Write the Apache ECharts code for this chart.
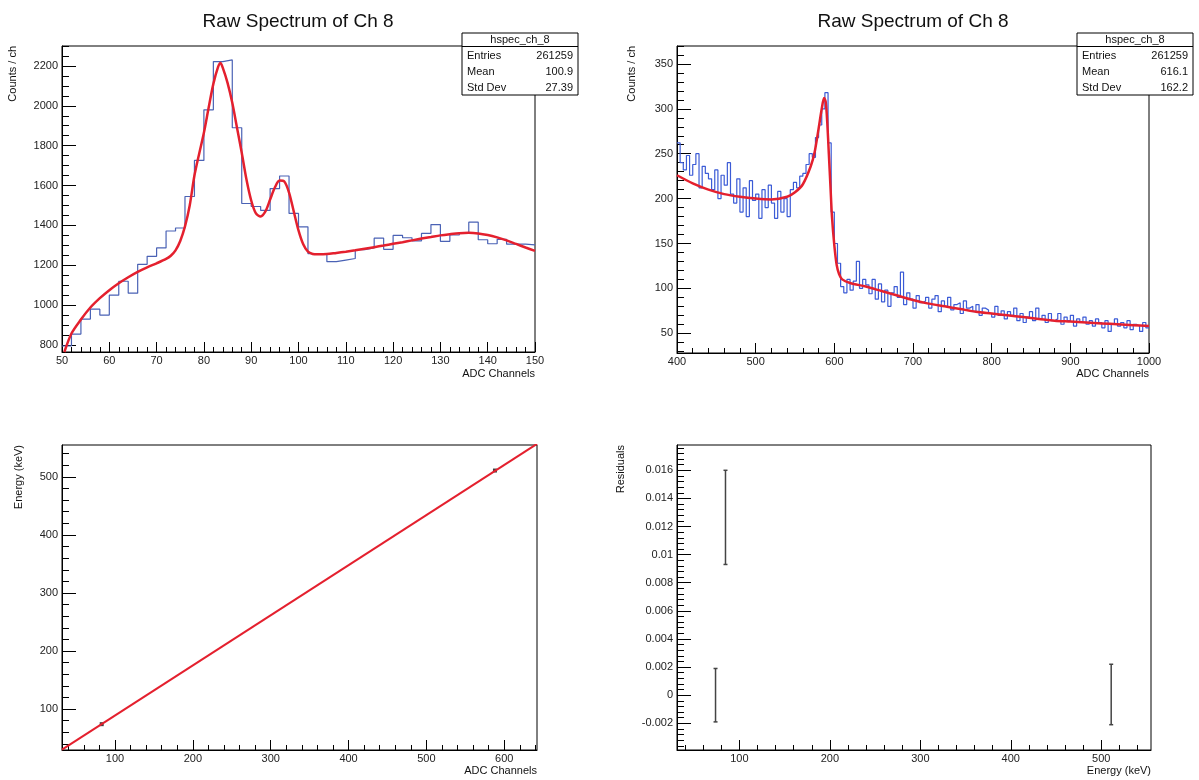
<!DOCTYPE html>
<html>
<head>
<meta charset="utf-8">
<title>Raw Spectrum of Ch 8</title>
<script src="https://cdn.jsdelivr.net/npm/echarts@6.0.0/dist/echarts.min.js"></script>
<style>
  html, body { margin: 0; padding: 0; background: #fff; }
  #main { width: 1199px; height: 780px; }
</style>
</head>
<body>
<div id="main"></div>
<script>
// ---- top left: spectrum 50..150, 2 ch bins ----
const hist1Start = 50;
const hist1Width = 2;
const hist1Counts = [
  795, 855, 930, 980, 950, 1050, 1120, 1060, 1205, 1245,
  1287, 1372, 1387, 1545, 1726, 1980, 2222, 2230, 1890, 1510,
  1495, 1475, 1585, 1648, 1460, 1393, 1258, 1258, 1218, 1226,
  1234, 1278, 1287, 1336, 1280, 1350, 1338, 1322, 1360, 1404,
  1320, 1352, 1364, 1416, 1328, 1308, 1330, 1306, 1306, 1302
];
const fit1X = [50.5, 52, 54, 56, 58, 60, 62, 64, 66, 68, 70, 72, 73, 74, 75, 76, 77, 78, 79, 80,
  81, 82, 83, 83.5, 84, 85, 86, 87, 88, 89, 90, 91, 92, 93, 94, 95, 96, 97, 98, 99, 100, 101, 102, 103, 104,
  106, 108, 110, 112, 114, 116, 118, 120, 122, 124, 126, 128, 130, 132, 134, 136, 138, 140, 142, 144, 146, 148, 150];
const fit1Y = [765, 858, 928, 988, 1035, 1075, 1110, 1140, 1167, 1190, 1210, 1232, 1248, 1275, 1322, 1395, 1500, 1650, 1760, 1865,
  1990, 2110, 2195, 2215, 2190, 2115, 2015, 1890, 1765, 1630, 1525, 1460, 1445, 1470, 1530, 1590, 1625, 1620, 1565, 1470, 1375, 1305, 1268, 1257, 1255,
  1256, 1262, 1268, 1275, 1283, 1291, 1299, 1308, 1316, 1325, 1334, 1342, 1350, 1356, 1361, 1363, 1360, 1352, 1340, 1325, 1307, 1289, 1272];

// ---- top right: spectrum 400..1000, 4 ch bins ----
const hist2Start = 400;
const hist2Width = 4;
const hist2Counts = [
  262, 240, 232, 248, 226, 238, 250, 212, 236, 228,
  222, 210, 232, 200, 226, 215, 240, 205, 195, 222,
  185, 212, 180, 220, 198, 205, 178, 210, 190, 215,
  195, 178, 208, 185, 200, 180, 210, 218, 212, 225,
  228, 238, 250, 246, 268, 282, 300, 318, 262, 185,
  150, 128, 102, 95, 110, 98, 108, 130, 100, 110,
  104, 94, 110, 88, 105, 85, 98, 80, 95, 102,
  90, 118, 82, 95, 88, 78, 92, 84, 86, 90,
  78, 88, 92, 74, 86, 80, 90, 76, 82, 84,
  72, 86, 78, 80, 74, 82, 70, 78, 76, 72,
  68, 80, 70, 75, 66, 74, 70, 78, 64, 72,
  62, 68, 74, 64, 78, 66, 70, 62, 72, 64,
  66, 72, 60, 68, 64, 70, 58, 66, 62, 68,
  60, 64, 58, 66, 62, 56, 64, 52, 60, 66,
  58, 62, 56, 64, 54, 60, 58, 52, 62, 56
];
const fit2X = [400, 420, 440, 460, 480, 500, 520, 540, 550, 560, 570, 575, 580, 584, 587, 589, 591, 593, 595, 597,
  600, 603, 606, 610, 620, 640, 660, 680, 700, 720, 740, 760, 780, 800, 820, 840, 860, 880, 900, 920, 940, 960, 980, 1000];
const fit2Y = [226, 217, 210, 205, 202, 200, 199, 202, 207, 216, 236, 252, 278, 300, 312, 308, 285, 250, 215, 180,
  148, 126, 116, 110, 106, 102, 97, 92, 87, 83, 80, 77, 74, 72, 70, 68, 66, 64, 63, 62, 61, 60, 59, 58];

// ---- bottom left: calibration ----
const calPointX = [83, 588];
const calPointY = [74, 511];
const calLineX = [32, 642];
const calLineY = [30, 557];

// ---- bottom right: residuals ----
const resX = [73.6, 84.6, 511];
const resLow = [-0.0019, 0.0093, -0.0021];
const resHigh = [0.0019, 0.016, 0.0022];

// ---- tick labels ----
const ticks1X = [50, 60, 70, 80, 90, 100, 110, 120, 130, 140, 150];
const ticks1Y = [800, 1000, 1200, 1400, 1600, 1800, 2000, 2200];
const ticks2X = [400, 500, 600, 700, 800, 900, 1000];
const ticks2Y = [50, 100, 150, 200, 250, 300, 350];
const ticks3X = [100, 200, 300, 400, 500, 600];
const ticks3Y = [100, 200, 300, 400, 500];
const ticks4X = [100, 200, 300, 400, 500];
const ticks4Y = [-0.002, 0, 0.002, 0.004, 0.006, 0.008, 0.01, 0.012, 0.014, 0.016];

const statsName = 'hspec_ch_8';
const stats1 = [['Entries', '261259'], ['Mean', '100.9'], ['Std Dev', '27.39']];
const stats2 = [['Entries', '261259'], ['Mean', '616.1'], ['Std Dev', '162.2']];

const FONT = '"Liberation Sans", Arial, Helvetica, sans-serif';

function range(a, b, step) {
  const out = [];
  for (let i = 0; a + i * step <= b + 1e-9; i++) out.push(+(a + i * step).toFixed(6));
  return out;
}
function zip(xs, ys) {
  return xs.map((x, i) => [x, ys[i]]);
}
// step outline: one point on each low edge, plus the last high edge
function histSteps(start, width, counts) {
  const pts = counts.map((c, i) => [start + i * width, c]);
  pts.push([start + counts.length * width, counts[counts.length - 1]]);
  return pts;
}

const panels = [
  { grid: { left: 62, top: 46, width: 473, height: 306 }, x: [50, 150], y: [765, 2300],
    xTicks: ticks1X, yTicks: ticks1Y, xMinor: range(50, 150, 2), yMinor: range(800, 2300, 50) },
  { grid: { left: 677, top: 46, width: 472, height: 307 }, x: [400, 1000], y: [28, 370],
    xTicks: ticks2X, yTicks: ticks2Y, xMinor: range(400, 1000, 20), yMinor: range(30, 370, 10) },
  { grid: { left: 62, top: 445, width: 475, height: 305 }, x: [32, 642], y: [29.5, 555],
    xTicks: ticks3X, yTicks: ticks3Y, xMinor: range(40, 640, 20), yMinor: range(40, 540, 20) },
  { grid: { left: 677, top: 445, width: 474, height: 305 }, x: [31, 555], y: [-0.0039, 0.0178],
    xTicks: ticks4X, yTicks: ticks4Y, xMinor: range(40, 540, 20), yMinor: range(-0.0036, 0.0176, 0.0004) }
];

function mainAxis(gi, pos, ext, ticks, tickLen, margin) {
  return {
    type: 'value', gridIndex: gi, position: pos, min: ext[0], max: ext[1],
    axisLine: { show: true, onZero: false, lineStyle: { color: '#000', width: 1 } },
    axisTick: { show: true, inside: true, length: tickLen, customValues: ticks, lineStyle: { color: '#000', width: 1 } },
    axisLabel: { customValues: ticks, margin: margin, color: '#222', fontSize: 11, fontFamily: FONT,
      formatter: v => String(v) },
    splitLine: { show: false }
  };
}
// second axis on the same side, only for the small ticks
function minorAxis(gi, pos, ext, ticks, tickLen) {
  return {
    type: 'value', gridIndex: gi, position: pos, offset: 0, min: ext[0], max: ext[1],
    axisLine: { show: false, onZero: false },
    axisTick: { show: true, inside: true, length: tickLen, customValues: ticks, lineStyle: { color: '#000', width: 1 } },
    axisLabel: { show: false },
    splitLine: { show: false }
  };
}

const xAxes = [], yAxes = [];
panels.forEach((p, i) => {
  xAxes.push(mainAxis(i, 'bottom', p.x, p.xTicks, 10, 3));
  yAxes.push(mainAxis(i, 'left', p.y, p.yTicks, 14, 4));
});
panels.forEach((p, i) => {
  xAxes.push(minorAxis(i, 'bottom', p.x, p.xMinor, 5));
  yAxes.push(minorAxis(i, 'left', p.y, p.yMinor, 7));
});

function text(x, y, str, size, align, rot) {
  return {
    type: 'text', x: x, y: y, rotation: rot || 0, silent: true,
    style: { text: str, font: size + 'px ' + FONT, fill: '#111', align: align, verticalAlign: 'middle' }
  };
}
function statBox(x, y, rows) {
  const w = 116, h = 62;
  const kids = [
    { type: 'rect', shape: { x: 0, y: 0, width: w, height: h }, style: { fill: '#fff', stroke: '#000', lineWidth: 1 } },
    { type: 'line', shape: { x1: 0, y1: 13.5, x2: w, y2: 13.5 }, style: { stroke: '#000', lineWidth: 1 } },
    text(w / 2, 7, statsName, 11, 'center')
  ];
  rows.forEach((r, i) => {
    kids.push(text(5, 23 + i * 16, r[0], 11, 'left'));
    kids.push(text(w - 5, 23 + i * 16, r[1], 11, 'right'));
  });
  return { type: 'group', x: x, y: y, z: 100, children: kids };
}

const grid = panels.map(p => Object.assign({ show: true, borderColor: '#000', borderWidth: 1, backgroundColor: '#fff' }, p.grid));

const chart = echarts.init(document.getElementById('main'), null, { renderer: 'canvas' });
chart.setOption({
  animation: false,
  backgroundColor: '#fff',
  grid: grid,
  xAxis: xAxes,
  yAxis: yAxes,
  graphic: [
    text(298, 22, 'Raw Spectrum of Ch 8', 19, 'center'),
    text(913, 22, 'Raw Spectrum of Ch 8', 19, 'center'),
    text(13, 46, 'Counts / ch', 11, 'right', Math.PI / 2),
    text(632, 46, 'Counts / ch', 11, 'right', Math.PI / 2),
    text(19, 445, 'Energy (keV)', 11, 'right', Math.PI / 2),
    text(621, 445, 'Residuals', 11, 'right', Math.PI / 2),
    text(535, 374, 'ADC Channels', 11, 'right'),
    text(1149, 374, 'ADC Channels', 11, 'right'),
    text(537, 771, 'ADC Channels', 11, 'right'),
    text(1151, 771, 'Energy (keV)', 11, 'right'),
    statBox(462, 33, stats1),
    statBox(1077, 33, stats2)
  ],
  series: [
    {
      type: 'line', xAxisIndex: 0, yAxisIndex: 0, step: 'end', symbol: 'none',
      data: histSteps(hist1Start, hist1Width, hist1Counts),
      lineStyle: { color: '#4a62b5', width: 1.2 }
    },
    {
      type: 'line', xAxisIndex: 0, yAxisIndex: 0, smooth: 0.3, symbol: 'none',
      data: zip(fit1X, fit1Y),
      lineStyle: { color: '#e4202e', width: 2.5 }
    },
    {
      type: 'line', xAxisIndex: 1, yAxisIndex: 1, step: 'end', symbol: 'none',
      data: histSteps(hist2Start, hist2Width, hist2Counts),
      lineStyle: { color: '#3b5bd6', width: 1.2 }
    },
    {
      type: 'line', xAxisIndex: 1, yAxisIndex: 1, smooth: 0.3, symbol: 'none',
      data: zip(fit2X, fit2Y),
      lineStyle: { color: '#e4202e', width: 2.5 }
    },
    {
      type: 'line', xAxisIndex: 2, yAxisIndex: 2, symbol: 'none',
      data: zip(calLineX, calLineY),
      lineStyle: { color: '#e4202e', width: 2 }
    },
    {
      type: 'scatter', xAxisIndex: 2, yAxisIndex: 2, symbol: 'rect', symbolSize: 4,
      data: zip(calPointX, calPointY),
      itemStyle: { color: '#111' }
    },
    {
      type: 'custom', xAxisIndex: 3, yAxisIndex: 3,
      data: resX.map((x, i) => [x, resLow[i], resHigh[i]]),
      encode: { x: 0, y: [1, 2] },
      renderItem: function (params, api) {
        const lo = api.coord([api.value(0), api.value(1)]);
        const hi = api.coord([api.value(0), api.value(2)]);
        const st = { stroke: '#444', lineWidth: 1.5 };
        return {
          type: 'group',
          children: [
            { type: 'line', shape: { x1: lo[0], y1: lo[1], x2: hi[0], y2: hi[1] }, style: st },
            { type: 'line', shape: { x1: lo[0] - 2, y1: lo[1], x2: lo[0] + 2, y2: lo[1] }, style: st },
            { type: 'line', shape: { x1: hi[0] - 2, y1: hi[1], x2: hi[0] + 2, y2: hi[1] }, style: st }
          ]
        };
      }
    }
  ]
});
</script>
</body>
</html>
